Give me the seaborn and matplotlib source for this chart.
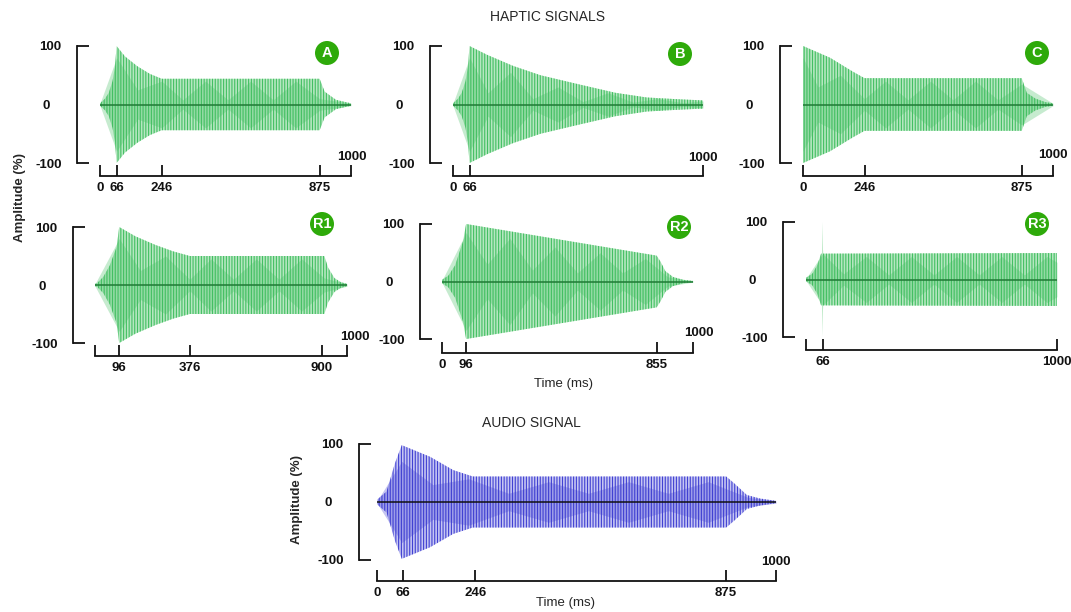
import numpy as np
import seaborn as sns
import matplotlib.pyplot as plt
from matplotlib.patches import Ellipse

sns.set_style('white')
plt.rcParams['font.family'] = ['Liberation Sans', 'DejaVu Sans']
plt.rcParams['hatch.linewidth'] = 0.8

# Envelopes: time (ms) and amplitude (%)
a_t = [0, 5, 20, 35, 50, 60, 66, 100, 150, 200, 246, 875, 895, 940, 1000]
a_amp = [2, 4, 10, 20, 40, 65, 100, 82, 65, 52, 44, 44, 22, 8, 2]
a_beat_t = [0, 66, 150, 246, 330, 420, 510, 600, 690, 780, 875, 1000]
a_beat_amp = [2, 80, 25, 40, 8, 40, 8, 40, 8, 40, 10, 2]

b_t = [0, 5, 20, 35, 50, 60, 66, 136, 240, 350, 508, 650, 775, 900, 1000]
b_amp = [2, 4, 10, 20, 40, 65, 100, 85, 66, 50, 34, 20, 12, 9, 7]
b_beat_t = [0, 66, 140, 230, 320, 420, 520, 620, 720, 820, 920, 1000]
b_beat_amp = [2, 80, 20, 55, 10, 30, 5, 20, 4, 10, 3, 6]

c_t = [0, 108, 200, 246, 875, 895, 930, 970, 1000]
c_amp = [100, 80, 56, 45, 45, 20, 10, 4, 2]
c_beat_t = [0, 60, 150, 246, 330, 420, 510, 600, 690, 780, 875, 1000]
c_beat_amp = [80, 30, 50, 10, 40, 8, 40, 8, 40, 8, 35, 2]

r1_t = [0, 8, 33, 59, 86, 96, 160, 240, 310, 376, 910, 925, 950, 975, 1000]
r1_amp = [2, 3, 14, 34, 66, 100, 84, 69, 58, 50, 50, 30, 12, 5, 2]
r1_beat_t = [0, 96, 180, 280, 376, 460, 550, 640, 730, 820, 910, 1000]
r1_beat_amp = [2, 80, 25, 50, 10, 45, 10, 45, 10, 45, 12, 2]

r2_t = [0, 25, 52, 84, 96, 855, 870, 890, 920, 960, 1000]
r2_amp = [3, 10, 28, 70, 100, 45, 35, 18, 8, 3, 1]
r2_beat_t = [0, 96, 180, 270, 360, 450, 540, 630, 720, 810, 900, 1000]
r2_beat_amp = [2, 85, 30, 75, 20, 60, 15, 50, 15, 40, 8, 1]

r3_t = [0, 25, 45, 60, 64, 66, 68, 1000]
r3_amp = [3, 10, 25, 45, 45, 100, 45, 46]
r3_beat_t = [0, 66, 150, 240, 330, 420, 510, 600, 690, 780, 870, 960, 1000]
r3_beat_amp = [2, 45, 10, 40, 8, 40, 8, 40, 8, 40, 8, 40, 30]

au_t = [0, 24, 45, 62, 133, 191, 240, 875, 894, 927, 960, 1000]
au_amp = [4, 18, 67, 98, 78, 55, 44, 44, 33, 12, 6, 2]
au_beat_t = [0, 62, 140, 230, 330, 430, 530, 630, 730, 830, 930, 1000]
au_beat_amp = [2, 70, 30, 40, 15, 35, 15, 35, 15, 35, 8, 2]

W, H = 1071, 612
GREEN = dict(light='#b6e7c1', dark='#43bf62', zero='#1f7a35')
BLUE = dict(light='#c6c6f3', dark='#4040d2', zero='#111111')

# name, t, amp, beat_t, beat_amp, ticks, tick labels, colours,
# pixel box (x0, x1, y100, y-100), y spine x, x axis y, "1000" offset, badge
panels = [
    ('A', a_t, a_amp, a_beat_t, a_beat_amp, [0, 66, 246, 875, 1000], ['0', '66', '246', '875', ''],
     GREEN, (100, 351, 46, 163), 77, 176, (1, 6), (327, 53)),
    ('B', b_t, b_amp, b_beat_t, b_beat_amp, [0, 66, 1000], ['0', '66', ''],
     GREEN, (453, 703, 46, 163), 430, 176, (0, 5), (680, 54)),
    ('C', c_t, c_amp, c_beat_t, c_beat_amp, [0, 246, 875, 1000], ['0', '246', '875', ''],
     GREEN, (803, 1053, 46, 163), 780, 176, (0, 8), (1037, 53)),
    ('R1', r1_t, r1_amp, r1_beat_t, r1_beat_amp, [0, 96, 376, 900, 1000], ['', '96', '376', '900', ''],
     GREEN, (95, 347, 227, 343), 73, 356, (8, 6), (322, 224)),
    ('R2', r2_t, r2_amp, r2_beat_t, r2_beat_amp, [0, 96, 855, 1000], ['0', '96', '855', ''],
     GREEN, (442, 693, 224, 339), 420, 353, (6, 6), (679, 227)),
    ('R3', r3_t, r3_amp, r3_beat_t, r3_beat_amp, [0, 66, 1000], ['', '66', '1000'],
     GREEN, (806, 1057, 222, 337), 783, 350, None, (1037, 224)),
    ('', au_t, au_amp, au_beat_t, au_beat_amp, [0, 66, 246, 875, 1000], ['0', '66', '246', '875', ''],
     BLUE, (377, 776, 444, 560), 359, 581, (0, -2), None),
]

fig = plt.figure(figsize=(W / 100, H / 100), dpi=100)

for (name, t, amp, bt, ba, ticks, tlabels, col, (x0, x1, ytop, ybot),
     yspine, xaxis_y, off1000, badge) in panels:
    ax = fig.add_axes([x0 / W, 1 - ybot / H, (x1 - x0) / W, (ybot - ytop) / H])
    t = np.array(t)
    amp = np.array(amp)
    ax.fill_between(t, -amp, amp, facecolor=col['light'], edgecolor=col['dark'],
                    hatch='||||||', linewidth=0, clip_on=False)
    ax.fill_between(np.array(bt), -np.array(ba), np.array(ba), color=col['dark'],
                    alpha=0.3, linewidth=0, clip_on=False)
    sns.lineplot(x=[t[0], t[-1]], y=[0, 0], color=col['zero'], lw=1.1, ax=ax)

    ax.set_xlim(0, 1000)
    ax.set_ylim(-100, 100)
    for s in ['top', 'right']:
        ax.spines[s].set_visible(False)
    for s in ['left', 'bottom']:
        ax.spines[s].set_linewidth(1.3)
        ax.spines[s].set_color('#111111')
    ax.spines['left'].set_position(('outward', (x0 - yspine) * 0.72))
    ax.spines['left'].set_bounds(-100, 100)
    ax.spines['bottom'].set_position(('outward', (xaxis_y - ybot) * 0.72))
    ax.spines['bottom'].set_bounds(0, 1000)

    ax.set_yticks([-100, 100])
    ax.set_yticklabels(['-100', '100'])
    ax.set_yticks([0], minor=True)
    ax.set_yticklabels(['0'], minor=True)
    ax.tick_params(axis='y', which='major', left=True, direction='in', length=8.5,
                   width=1.3, pad=11, color='#111111')
    ax.tick_params(axis='y', which='minor', left=True, length=0, pad=11 + 8.5)
    ax.set_xticks(ticks)
    ax.set_xticklabels(tlabels)
    ax.tick_params(axis='x', bottom=True, direction='in', length=8, width=1.3, pad=4,
                   color='#111111')
    ax.tick_params(axis='both', which='both', labelsize=9.5, labelcolor='#111111')
    for lab in ax.get_xticklabels() + ax.get_yticklabels() + ax.get_yticklabels(minor=True):
        lab.set_fontweight('bold')
    ax.grid(False)
    ax.set_facecolor('none')

    if off1000 is not None:
        ax.annotate('1000', xy=(1000, -100), xytext=off1000, textcoords='offset pixels',
                    ha='center', va='center', fontsize=9.5, fontweight='bold',
                    color='#111111', annotation_clip=False)

    if badge is not None:
        bx, by = badge
        fig.add_artist(Ellipse((bx / W, 1 - by / H), 24 / W, 24 / H,
                               transform=fig.transFigure, color='#2eaa0a', lw=0))
        fig.text(bx / W, 1 - by / H, name, ha='center', va='center', color='white',
                 fontsize=10.5, fontweight='bold')

fig.text(548 / W, 1 - 17 / H, 'HAPTIC SIGNALS', ha='center', va='center', fontsize=10)
fig.text(531 / W, 1 - 423 / H, 'AUDIO SIGNAL', ha='center', va='center', fontsize=10)
fig.text(20 / W, 1 - 198 / H, 'Amplitude (%)', ha='center', va='center', rotation=90,
         fontsize=9.5, fontweight='bold')
fig.text(297 / W, 1 - 500 / H, 'Amplitude (%)', ha='center', va='center', rotation=90,
         fontsize=9.5, fontweight='bold')
fig.text(563 / W, 1 - 384 / H, 'Time (ms)', ha='center', va='center', fontsize=9.5)
fig.text(566 / W, 1 - 603 / H, 'Time (ms)', ha='center', va='center', fontsize=9.5)

fig.savefig('out.png', dpi=100, facecolor='white')
